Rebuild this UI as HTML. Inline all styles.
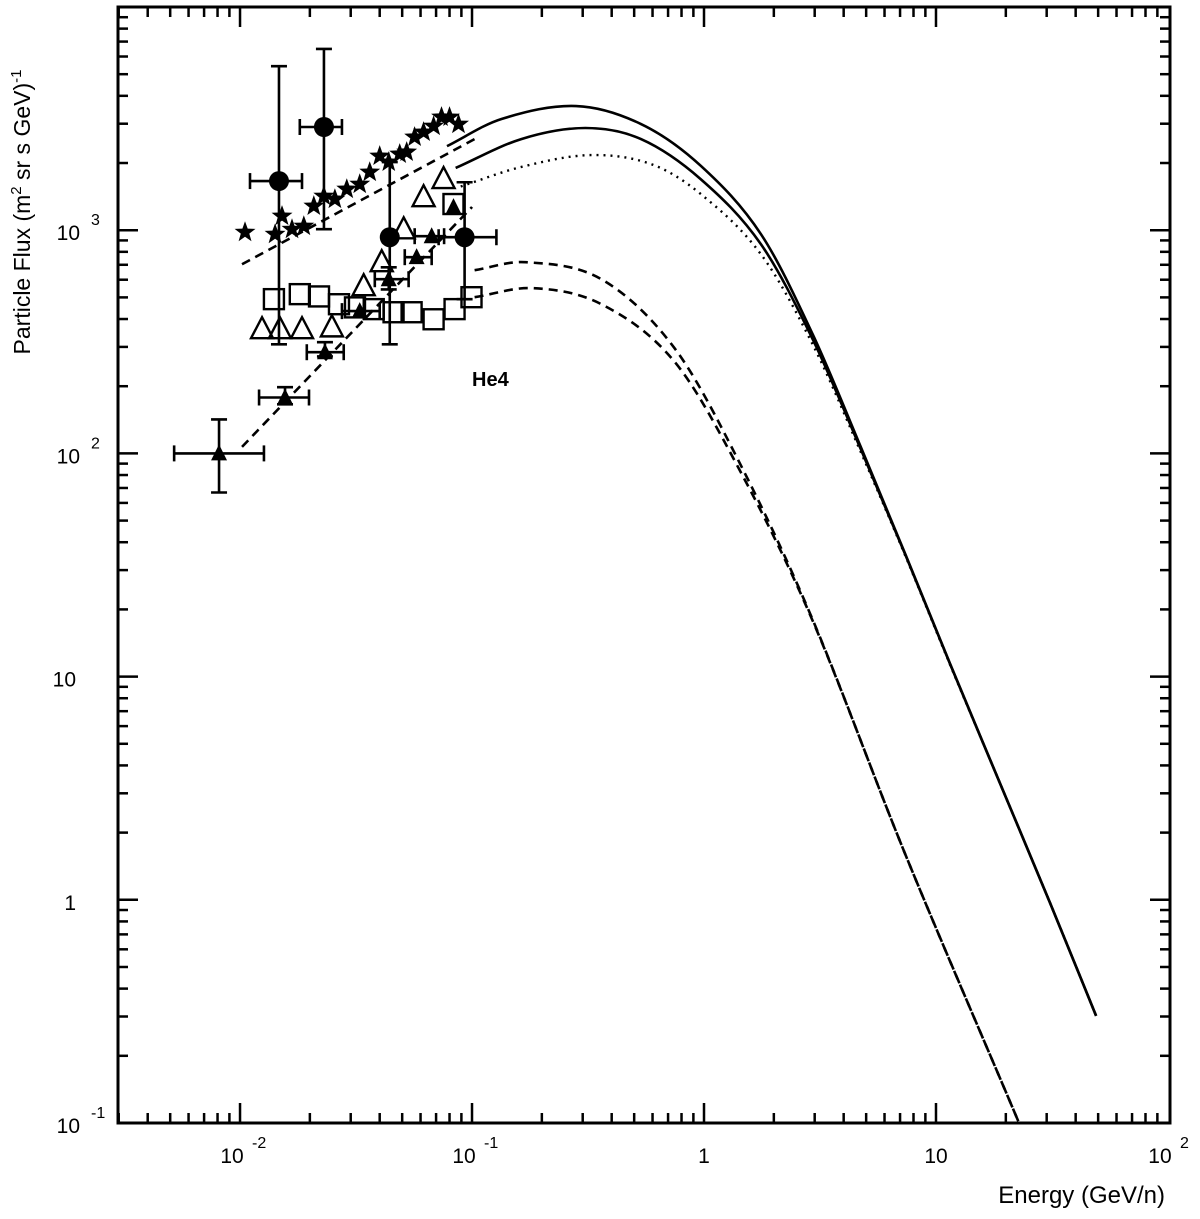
<!DOCTYPE html>
<html><head><meta charset="utf-8"><style>
html,body{margin:0;padding:0;background:#fff;}
svg text{font-family:"Liberation Sans",Arial,sans-serif;fill:#000;}
</style></head><body>
<svg id="chart" width="1200" height="1214" viewBox="0 0 1200 1214" xmlns="http://www.w3.org/2000/svg">
<g id="ticks"></g>
<g id="curves"></g>
<g id="points"></g>
<rect x="118" y="7" width="1052" height="1116" fill="none" stroke="#000" stroke-width="3"/>
<g id="labels"></g>
<text x="472" y="386" font-size="20" font-weight="bold">He4</text>
<text x="1165" y="1203" font-size="24" text-anchor="end">Energy (GeV/n)</text>
<text transform="translate(30,212) rotate(-90)" font-size="23" text-anchor="middle">Particle Flux (m<tspan dy="-9" font-size="15">2</tspan><tspan dy="9"> sr s GeV)</tspan><tspan dy="-9" font-size="15">-1</tspan></text>
</svg>
<script>
// axis
const xLogMin=-2.526, xLogMax=2.0087, yLogMin=-1, yLogMax=4;
const X0=118,X1=1170,Y0=1123,Y1=7;
function sx(e){return X0+(Math.log10(e)-xLogMin)/(xLogMax-xLogMin)*(X1-X0);}
function sy(f){return Y0-(Math.log10(f)-yLogMin)/(yLogMax-yLogMin)*(Y0-Y1);}

// model curves
const upperSolidE=[0.078,0.134,0.281,0.535,0.97,1.76,2.94,4.73,7.39,11.5,18.6,31,49];
const upperSolidF=[2380,3150,3600,2990,1940,960,342,107.5,35.2,11.4,3.45,0.97,0.302];
const lowerSolidE=[0.085,0.163,0.308,0.535,0.97,1.76,2.94,4.73,7.39,11.5,18.6,31,49];
const lowerSolidF=[1900,2560,2870,2560,1690,865,325,105,35.0,11.4,3.45,0.97,0.302];
const dottedE=[0.0894,0.163,0.324,0.59,0.97,1.76,2.94,4.73,7.39,11.5,18.6,31,49];
const dottedF=[1570,1920,2170,1980,1450,780,308,102,34.6,11.3,3.45,0.97,0.302];
const dashUpE=[0.1026,0.170,0.361,0.743,1.42,2.94,7.39,22.9];
const dashUpF=[662,719,603,298,91.2,18.0,1.59,0.099];
const dashLoE=[0.1026,0.183,0.361,0.743,1.42,2.94,7.39,22.9];
const dashLoF=[501,550,466,259,84.7,17.8,1.59,0.099];
const fitStarE=[0.0102,0.1026];
const fitStarF=[704,2560];
const fitTriE=[0.0102,0.1];
const fitTriF=[107,1270];

// data points
const circE=[0.01472,0.0230,0.0442,0.0929];
const circF=[1660,2900,930,930];
const circFlo=[308,1010,308,491];
const circFhi=[5430,6490,2020,1640];
const circElo=[0.01104,0.0181,0.0442,0.0718];
const circEhi=[0.0185,0.0275,0.0442,0.1274];
const starE=[0.01051,0.01416,0.01517,0.01675,0.01884,0.0208,0.02297,0.02564,0.02885,0.03281,0.03623,0.04,0.04375,0.04879,0.05228,0.05657,0.06184,0.0683,0.0739,0.08,0.08745];
const starF=[979,959,1156,1009,1042,1282,1420,1377,1527,1607,1820,2147,2018,2193,2239,2614,2750,2924,3212,3210,2985];
const openTriE=[0.01244,0.01486,0.0185,0.02489,0.03412,0.04081,0.05076,0.06184,0.0754];
const openTriF=[360,360,360,367,561,719,1009,1406,1694];
const fTriE=[0.00812,0.01563,0.02323,0.03281,0.04375,0.0577,0.067,0.0832];
const fTriF=[100,178,284,434,603,757,940,1268];
const fTriElo=[0.0052,0.01208,0.0194,0.0275,0.0381,0.0513,0.0566,0.0832];
const fTriEhi=[0.01268,0.01983,0.02799,0.040,0.0533,0.067,0.0758,0.0832];
const fTriFlo=[66.8,166,272,434,543,757,940,1268];
const fTriFhi=[142,198,315,434,682,757,940,1268];
const sqE=[0.0140,0.0181,0.0219,0.0267,0.0313,0.0377,0.0459,0.0549,0.0683,0.0841,0.0995,0.0832];
const sqF=[491,517,505,466,451,443,429,429,399,443,501,1310];

const NS='http://www.w3.org/2000/svg';
function mk(tag,attrs,parent){const el=document.createElementNS(NS,tag);for(const k in attrs)el.setAttribute(k,attrs[k]);parent.appendChild(el);return el;}
const gT=document.getElementById('ticks'),gC=document.getElementById('curves'),gP=document.getElementById('points'),gL=document.getElementById('labels');

// ticks
for(let d=-3;d<=1;d++){for(let m=1;m<=9;m++){const v=m*Math.pow(10,d);const lv=Math.log10(v);if(lv<xLogMin||lv>xLogMax)continue;
 const x=sx(v);const len=m===1?20:10;
 const t1=mk('line',{x1:x,x2:x,y1:Y0,y2:Y0-len,stroke:'#000','stroke-width':2.5},gT);
 
 
 const t2=mk('line',{x1:x,x2:x,y1:Y1,y2:Y1+len,stroke:'#000','stroke-width':2.5},gT);
 
 
}}
for(let d=-1;d<=3;d++){for(let m=1;m<=9;m++){const v=m*Math.pow(10,d);const y=sy(v);const len=m===1?20:10;
 const t1=mk('line',{x1:X0,x2:X0+len,y1:y,y2:y,stroke:'#000','stroke-width':2.5},gT);
 
 
 const t2=mk('line',{x1:X1,x2:X1-len,y1:y,y2:y,stroke:'#000','stroke-width':2.5},gT);
 
 
}}
// tick labels
const xTickVals=[0.01,0.1,1,10,100];
const xTickBase=['10','10','1','10','10'];
const xTickExp=['-2','-1','','','2'];
xTickVals.forEach((v,i)=>{const x=sx(v);const t=mk('text',{x:xTickExp[i]?x-8:x,y:1163,'font-size':21,'text-anchor':'middle'},gL);
 
 
 t.textContent=xTickBase[i];
 if(xTickExp[i]){const s=mk('text',{x:x+12,y:1148,'font-size':16},gL);s.textContent=xTickExp[i];
 
 }
});
const yTickVals=[0.1,1,10,100,1000];
const yTickBase=['10','1','10','10','10'];
const yTickExp=['-1','','','2','3'];
yTickVals.forEach((v,i)=>{const y=sy(v);const t=mk('text',{x:yTickExp[i]?80:76,y:y+10,'font-size':21,'text-anchor':'end'},gL);
 
 
 t.textContent=yTickBase[i];
 if(yTickExp[i]){const s=mk('text',{x:91,y:y-5,'font-size':16},gL);s.textContent=yTickExp[i];
 
 }
});

// curves (smooth through points, tension reduced)
function curve(E,F,dash,name,w){
 let pts=[];for(let i=0;i<E.length;i++)pts.push([sx(E[i]),sy(F[i])]);
 let d='M'+pts[0][0]+','+pts[0][1];
 for(let i=0;i<pts.length-1;i++){const p0=pts[i-1]||pts[i],p1=pts[i],p2=pts[i+1],p3=pts[i+2]||p2;
  const seg=p2[0]-p1[0];
  const s1=(p2[1]-p0[1])/((p2[0]-p0[0])||1), s2=(p3[1]-p1[1])/((p3[0]-p1[0])||1);
  const c1=[p1[0]+seg/3,p1[1]+s1*seg/3],c2=[p2[0]-seg/3,p2[1]-s2*seg/3];
  d+=' C'+c1[0]+','+c1[1]+' '+c2[0]+','+c2[1]+' '+p2[0]+','+p2[1];}
 const p=mk('path',{d:d,fill:'none',stroke:'#000','stroke-width':w||2.6,'stroke-dasharray':dash||'none'},gC);
 
 
}
curve(upperSolidE,upperSolidF,null,'upper-solid-curve');
curve(lowerSolidE,lowerSolidF,null,'lower-solid-curve');
curve(dottedE,dottedF,'2,5','dotted-curve',2.4);
curve(dashUpE,dashUpF,'9,6','upper-dashed-curve');
curve(dashLoE,dashLoF,'9,6','lower-dashed-curve');
curve(fitStarE,fitStarF,'9,6','star-fit-dashed-line');
curve(fitTriE,fitTriF,'9,6','triangle-fit-dashed-line');

// error bars helper
function errbar(x1,y1,x2,y2,horiz,name){
 const l=mk('line',{x1:x1,y1:y1,x2:x2,y2:y2,stroke:'#000','stroke-width':2.6},gP);
 
 
 const c=8;
 [[x1,y1],[x2,y2]].forEach(p=>{const cap=mk('line',horiz?{x1:p[0],x2:p[0],y1:p[1]-c,y2:p[1]+c}:{x1:p[0]-c,x2:p[0]+c,y1:p[1],y2:p[1]},gP);
  cap.setAttribute('stroke','#000');cap.setAttribute('stroke-width',2.6);
  
  });
}
// squares
sqE.forEach((e,i)=>{const x=sx(e),y=sy(sqF[i]);const r=mk('rect',{x:x-10,y:y-10,width:20,height:20,fill:'none',stroke:'#000','stroke-width':2.4},gP);
 
 });
// open triangles
openTriE.forEach((e,i)=>{const x=sx(e),y=sy(openTriF[i]);const p=mk('polygon',{points:(x-11)+','+(y+9)+' '+(x+11)+','+(y+9)+' '+x+','+(y-12),fill:'#fff','fill-opacity':0,stroke:'#000','stroke-width':2.4},gP);
 
 });
// circles with errors
circE.forEach((e,i)=>{const x=sx(e),y=sy(circF[i]);
 errbar(x,sy(circFhi[i]),x,sy(circFlo[i]),false,'circle-y-error');
 if(circEhi[i]>circElo[i])errbar(sx(circElo[i]),y,sx(circEhi[i]),y,true,'circle-x-error');
 const c=mk('circle',{cx:x,cy:y,r:10,fill:'#000'},gP);
 
 });
// filled triangles
fTriE.forEach((e,i)=>{const x=sx(e),y=sy(fTriF[i]);
 if(fTriFhi[i]>fTriFlo[i])errbar(x,sy(fTriFhi[i]),x,sy(fTriFlo[i]),false,'triangle-y-error');
 if(fTriEhi[i]>fTriElo[i])errbar(sx(fTriElo[i]),y,sx(fTriEhi[i]),y,true,'triangle-x-error');
 const p=mk('polygon',{points:(x-8)+','+(y+7)+' '+(x+8)+','+(y+7)+' '+x+','+(y-9),fill:'#000'},gP);
 
 });
// stars
starE.forEach((e,i)=>{const x=sx(e),y=sy(starF[i]);let pts=[];
 for(let k=0;k<10;k++){const r=k%2?4.5:11;const a=-Math.PI/2+k*Math.PI/5;pts.push((x+r*Math.cos(a)).toFixed(1)+','+(y+r*Math.sin(a)).toFixed(1));}
 const p=mk('polygon',{points:pts.join(' '),fill:'#000'},gP);
 
 });
</script>
</body></html>
